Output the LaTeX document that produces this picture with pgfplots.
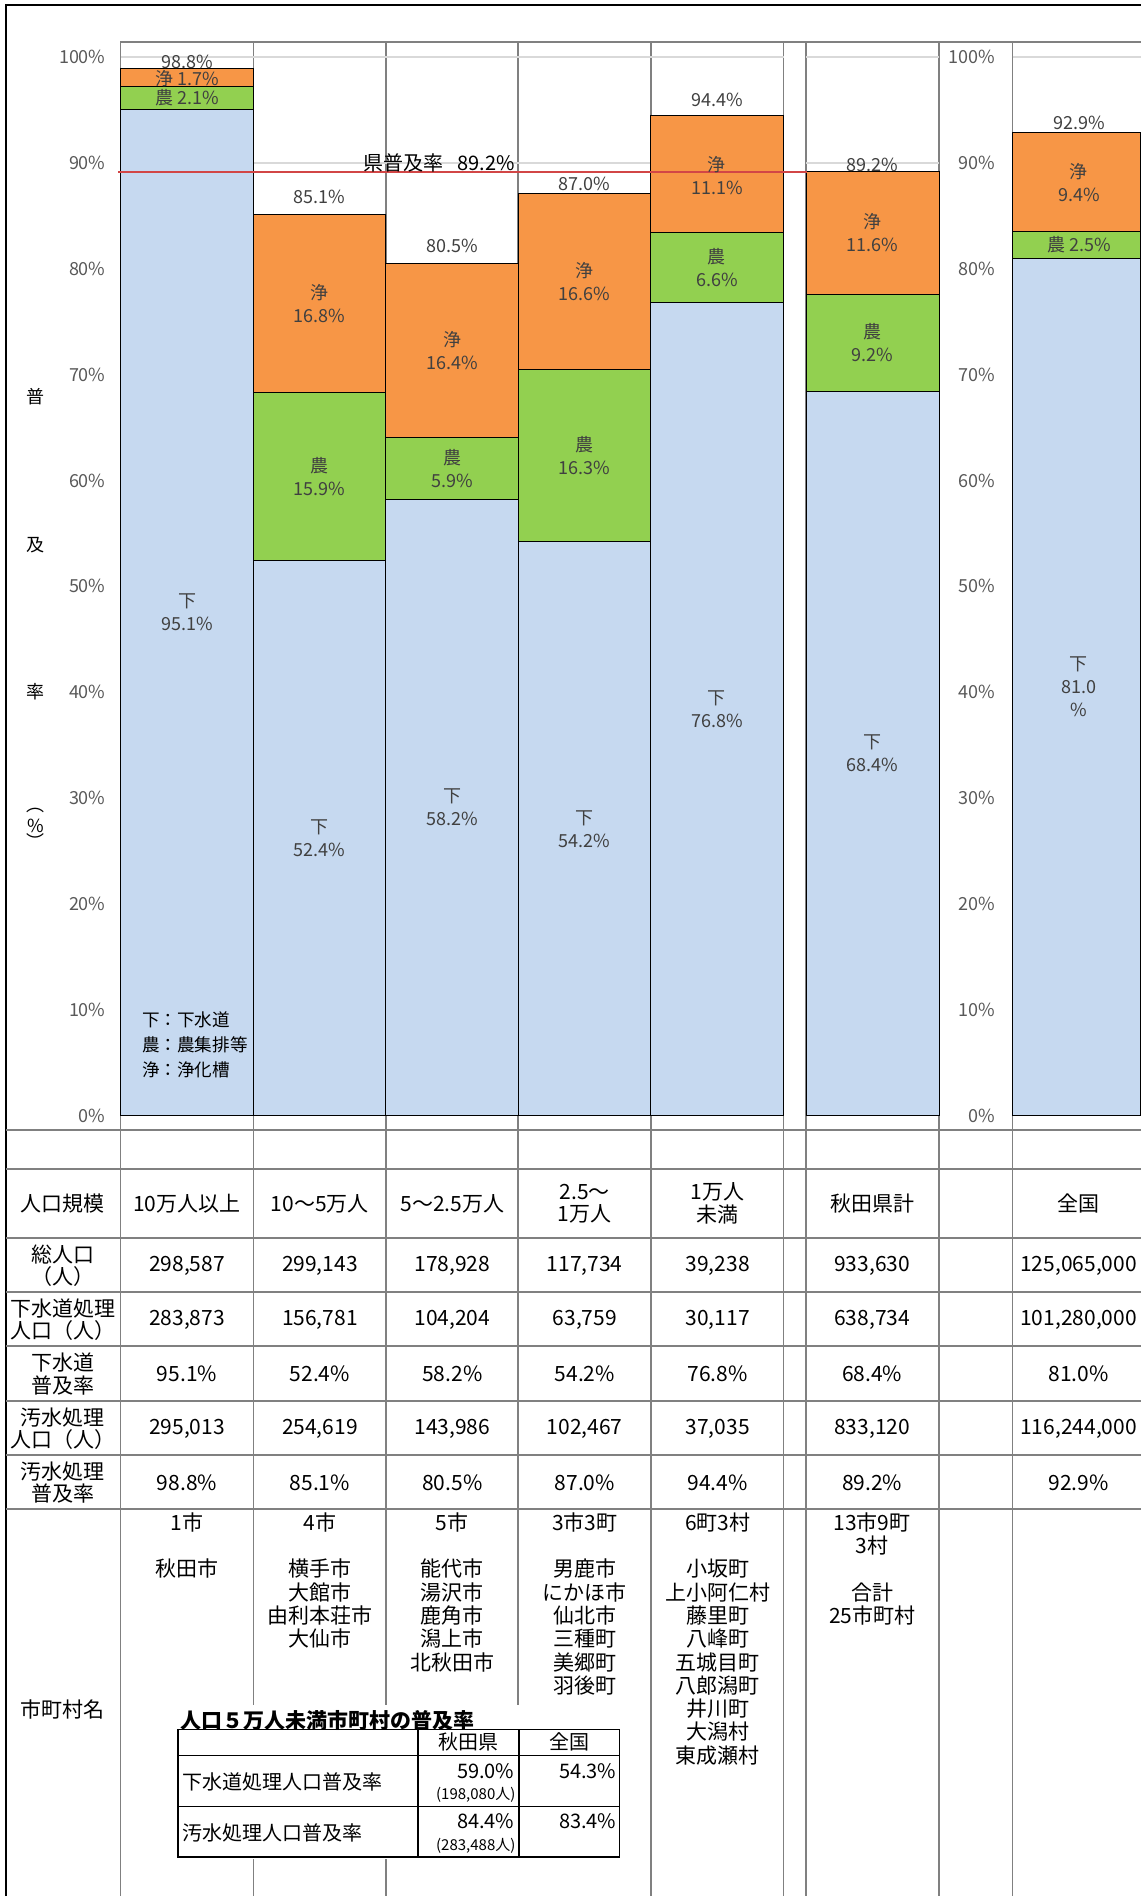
\documentclass[border=0pt]{standalone}
\usepackage{pgfplots}
\pgfplotsset{compat=1.18}
\usepackage{fontspec}
\setmainfont{Noto Sans CJK JP}
\definecolor{blueF}{RGB}{198,217,240}
\definecolor{greenF}{RGB}{146,208,80}
\definecolor{orangeF}{RGB}{247,150,70}
\definecolor{gridG}{RGB}{217,217,217}
\definecolor{lineG}{RGB}{128,128,128}
\definecolor{tickG}{RGB}{89,89,89}
\definecolor{labG}{RGB}{64,64,64}
\definecolor{refR}{RGB}{210,70,70}
\newcommand{\cf}{\fontsize{9}{11.5}\selectfont}
\newcommand{\tf}{\fontsize{10.5}{11.2}\selectfont}
\newcommand{\smf}{\fontsize{7.5}{8}\selectfont}
\pgfplotsset{
  panel/.style={
    scale only axis, height=537.15pt,
    ymin=0, ymax=101.47, enlargelimits=false,
    ybar stacked, bar width=132.5,
    axis line style={draw=none}, major tick length=0pt,
    xtick=\empty, ytick={0,10,...,100},
    ymajorgrids, grid style={gridG, line width=0.8pt},
    clip=false,
    yticklabel style={font=\cf, text=tickG, anchor=east, inner sep=0pt},
  },
}
\tikzset{lab/.style={font=\cf, text=labG, align=center, inner sep=0pt}}
\newcommand{\trow}[8]{%
 \node at (187,#1) {#2}; \node at (320,#1) {#3}; \node at (452.5,#1) {#4};
 \node at (585,#1) {#5}; \node at (718,#1) {#6}; \node at (872.5,#1) {#7};
 \node at (1079,#1) {#8};}
\begin{document}
\begin{tikzpicture}
\path (0,0) rectangle (570.5pt,-948.5pt);
\begin{scope}[x=0.5pt,y=-0.5pt]
 \draw[black, line width=0.75pt] (6,1897) -- (6,5) -- (1141,5);
 \draw[lineG, line width=0.9pt] (120.5,41.7) -- (1141,41.7);
 \foreach \xx in {120.5,253.5,386,651,784,806.5,939.5,1013}
   \draw[lineG, line width=0.8pt] (\xx,41.7) -- (\xx,1897);
 \draw[lineG, line width=0.8pt] (518.5,41.7) -- (518.5,1707);
 \foreach \yy in {1130,1169,1239,1293,1347,1402,1456,1510}
   \draw[lineG, line width=1pt] (6,\yy) -- (1141,\yy);
\end{scope}

% left panel
\begin{axis}[panel, at={(60.5pt,-558pt)}, anchor=south west, width=331.5pt,
  xmin=121, xmax=784,
  yticklabels={0\%,10\%,20\%,30\%,40\%,50\%,60\%,70\%,80\%,90\%,100\%},
  yticklabel style={xshift=-7.5pt}]
\addplot[fill=blueF, draw=black, line width=0.5pt] coordinates {(187.25,95.1) (319.75,52.4) (452.25,58.2) (584.75,54.2) (717.25,76.8)};
\addplot[fill=greenF, draw=black, line width=0.5pt] coordinates {(187.25,2.1) (319.75,15.9) (452.25,5.9) (584.75,16.3) (717.25,6.6)};
\addplot[fill=orangeF, draw=black, line width=0.5pt] coordinates {(187.25,1.7) (319.75,16.8) (452.25,16.4) (584.75,16.6) (717.25,11.1)};
\end{axis}

% Akita total
\begin{axis}[panel, at={(403.25pt,-558pt)}, anchor=south west, width=66.5pt,
  xmin=806.5, xmax=939.5, yticklabel={\phantom{0}}, bar width=133]
\addplot[fill=blueF, draw=black, line width=0.5pt] coordinates {(873,68.4)};
\addplot[fill=greenF, draw=black, line width=0.5pt] coordinates {(873,9.2)};
\addplot[fill=orangeF, draw=black, line width=0.5pt] coordinates {(873,11.6)};
\end{axis}

% national
\begin{axis}[panel, at={(506.5pt,-558pt)}, anchor=south west, width=64pt,
  xmin=1013, xmax=1141, bar width=128,
  yticklabels={0\%,10\%,20\%,30\%,40\%,50\%,60\%,70\%,80\%,90\%,100\%},
  yticklabel style={xshift=-8.5pt}]
\addplot[fill=blueF, draw=black, line width=0.5pt] coordinates {(1077,81.0)};
\addplot[fill=greenF, draw=black, line width=0.5pt] coordinates {(1077,2.5)};
\addplot[fill=orangeF, draw=black, line width=0.5pt] coordinates {(1077,9.4)};
\end{axis}

% reference line and labels (overlay, same x/y mapping in px and %)
\begin{axis}[at={(60.5pt,-558pt)}, anchor=south west, scale only axis,
  width=331.5pt, height=537.15pt, xmin=121, xmax=784, ymin=0, ymax=101.47,
  hide axis, clip=false]
\addplot[refR, line width=1pt, no marks] coordinates {(118,89.2) (807,89.2)};
\node[font=\fontsize{10}{12}\selectfont, inner sep=0pt] at (axis cs:439.5,90.0) {県普及率\hspace{0.7em}89.2\%};
\node[lab] at (axis cs:187.25,47.55) {下\\95.1\%};
\node[lab] at (axis cs:187.25,96.15) {農 2.1\%};
\node[lab] at (axis cs:187.25,98.0) {浄 1.7\%};
\node[lab] at (axis cs:187.25,99.56) {98.8\%};
\node[lab] at (axis cs:319.75,26.2) {下\\52.4\%};
\node[lab] at (axis cs:319.75,60.35) {農\\15.9\%};
\node[lab] at (axis cs:319.75,76.7) {浄\\16.8\%};
\node[lab] at (axis cs:319.75,86.8) {85.1\%};
\node[lab] at (axis cs:452.25,29.1) {下\\58.2\%};
\node[lab] at (axis cs:452.25,61.15) {農\\5.9\%};
\node[lab] at (axis cs:452.25,72.3) {浄\\16.4\%};
\node[lab] at (axis cs:452.25,82.2) {80.5\%};
\node[lab] at (axis cs:584.75,27.1) {下\\54.2\%};
\node[lab] at (axis cs:584.75,62.35) {農\\16.3\%};
\node[lab] at (axis cs:584.75,78.8) {浄\\16.6\%};
\node[lab] at (axis cs:584.75,88.0) {87.0\%};
\node[lab] at (axis cs:717.25,38.4) {下\\76.8\%};
\node[lab] at (axis cs:717.25,80.1) {農\\6.6\%};
\node[lab] at (axis cs:717.25,88.85) {浄\\11.1\%};
\node[lab] at (axis cs:717.25,96.0) {94.4\%};
\node[lab] at (axis cs:873,34.2) {下\\68.4\%};
\node[lab] at (axis cs:873,73.0) {農\\9.2\%};
\node[lab] at (axis cs:873,83.4) {浄\\11.6\%};
\node[lab] at (axis cs:873,89.83) {89.2\%};
\node[lab] at (axis cs:1079.25,40.5) {下\\81.0\\\%};
\node[lab] at (axis cs:1079.25,82.25) {農 2.5\%};
\node[lab] at (axis cs:1079.25,88.2) {浄\\9.4\%};
\node[lab] at (axis cs:1079.25,93.8) {92.9\%};
\end{axis}

\begin{scope}[x=0.5pt,y=-0.5pt]
 \begin{scope}[every node/.style={font=\cf, inner sep=0pt}]
  \node at (36,397) {普};
  \node at (36,545) {及};
  \node at (36,692) {率};
  \node at (36,811) {︵};
  \node at (36,826) {\%};
  \node at (36,841) {︶};
 \end{scope}
 \begin{scope}[every node/.style={font=\fontsize{8.8}{10}\selectfont, inner sep=0pt, anchor=west}]
  \node at (141.7,1020) {下：下水道};
  \node at (141.7,1045) {農：農集排等};
  \node at (141.7,1070) {浄：浄化槽};
 \end{scope}
 \begin{scope}[every node/.style={font=\tf, align=center, inner sep=0pt}]
  \node at (63,1204) {人口規模};
  \node at (63,1266) {総人口\\（人）};
  \node at (63,1320) {下水道処理\\人口（人）};
  \node at (63,1374.5) {下水道\\普及率};
  \node at (63,1429) {汚水処理\\人口（人）};
  \node at (63,1483) {汚水処理\\普及率};
  \node at (63,1710) {市町村名};
  \trow{1204}{10万人以上}{10～5万人}{5～2.5万人}{2.5～\\1万人}{1万人\\未満}{秋田県計}{全国}
  \trow{1266}{298,587}{299,143}{178,928}{117,734}{39,238}{933,630}{125,065,000}
  \trow{1320}{283,873}{156,781}{104,204}{63,759}{30,117}{638,734}{101,280,000}
  \trow{1374.5}{95.1\%}{52.4\%}{58.2\%}{54.2\%}{76.8\%}{68.4\%}{81.0\%}
  \trow{1429}{295,013}{254,619}{143,986}{102,467}{37,035}{833,120}{116,244,000}
  \trow{1483}{98.8\%}{85.1\%}{80.5\%}{87.0\%}{94.4\%}{89.2\%}{92.9\%}
  \foreach \t [count=\i from 0] in {1市,,秋田市}
    \node at (187,{1523+23.3*\i}) {\t};
  \foreach \t [count=\i from 0] in {4市,,横手市,大館市,由利本荘市,大仙市}
    \node at (320,{1523+23.3*\i}) {\t};
  \foreach \t [count=\i from 0] in {5市,,能代市,湯沢市,鹿角市,潟上市,北秋田市}
    \node at (452.5,{1523+23.3*\i}) {\t};
  \foreach \t [count=\i from 0] in {3市3町,,男鹿市,にかほ市,仙北市,三種町,美郷町,羽後町}
    \node at (585,{1523+23.3*\i}) {\t};
  \foreach \t [count=\i from 0] in {6町3村,,小坂町,上小阿仁村,藤里町,八峰町,五城目町,八郎潟町,井川町,大潟村,東成瀬村}
    \node at (718,{1523+23.3*\i}) {\t};
  \foreach \t [count=\i from 0] in {13市9町,3村,,合計,25市町村}
    \node at (872.5,{1523+23.3*\i}) {\t};
 \end{scope}
 \fill[white] (176,1706) rectangle (622,1860);
 \node[anchor=west, font=\bfseries\tf, inner sep=0pt] at (180,1721) {人口５万人未満市町村の普及率};
 \draw[black, line width=0.75pt] (178,1730) rectangle (620,1858);
 \draw[black, line width=0.75pt] (418,1730) -- (418,1858) (519,1730) -- (519,1858)
   (178,1756) -- (620,1756) (178,1807) -- (620,1807);
 \begin{scope}[every node/.style={font=\fontsize{10}{12}\selectfont, inner sep=0pt}]
  \node at (468.5,1743) {秋田県};
  \node at (569.5,1743) {全国};
  \node[anchor=west] at (182,1783) {下水道処理人口普及率};
  \node[anchor=west] at (182,1834) {汚水処理人口普及率};
  \node[anchor=east] at (515,1772) {59.0\%};
  \node[anchor=east] at (617,1772) {54.3\%};
  \node[anchor=east] at (515,1822) {84.4\%};
  \node[anchor=east] at (617,1822) {83.4\%};
  \node[anchor=east, font=\smf] at (516,1796) {(198,080人)};
  \node[anchor=east, font=\smf] at (516,1847) {(283,488人)};
 \end{scope}
\end{scope}
\end{tikzpicture}
\end{document}
